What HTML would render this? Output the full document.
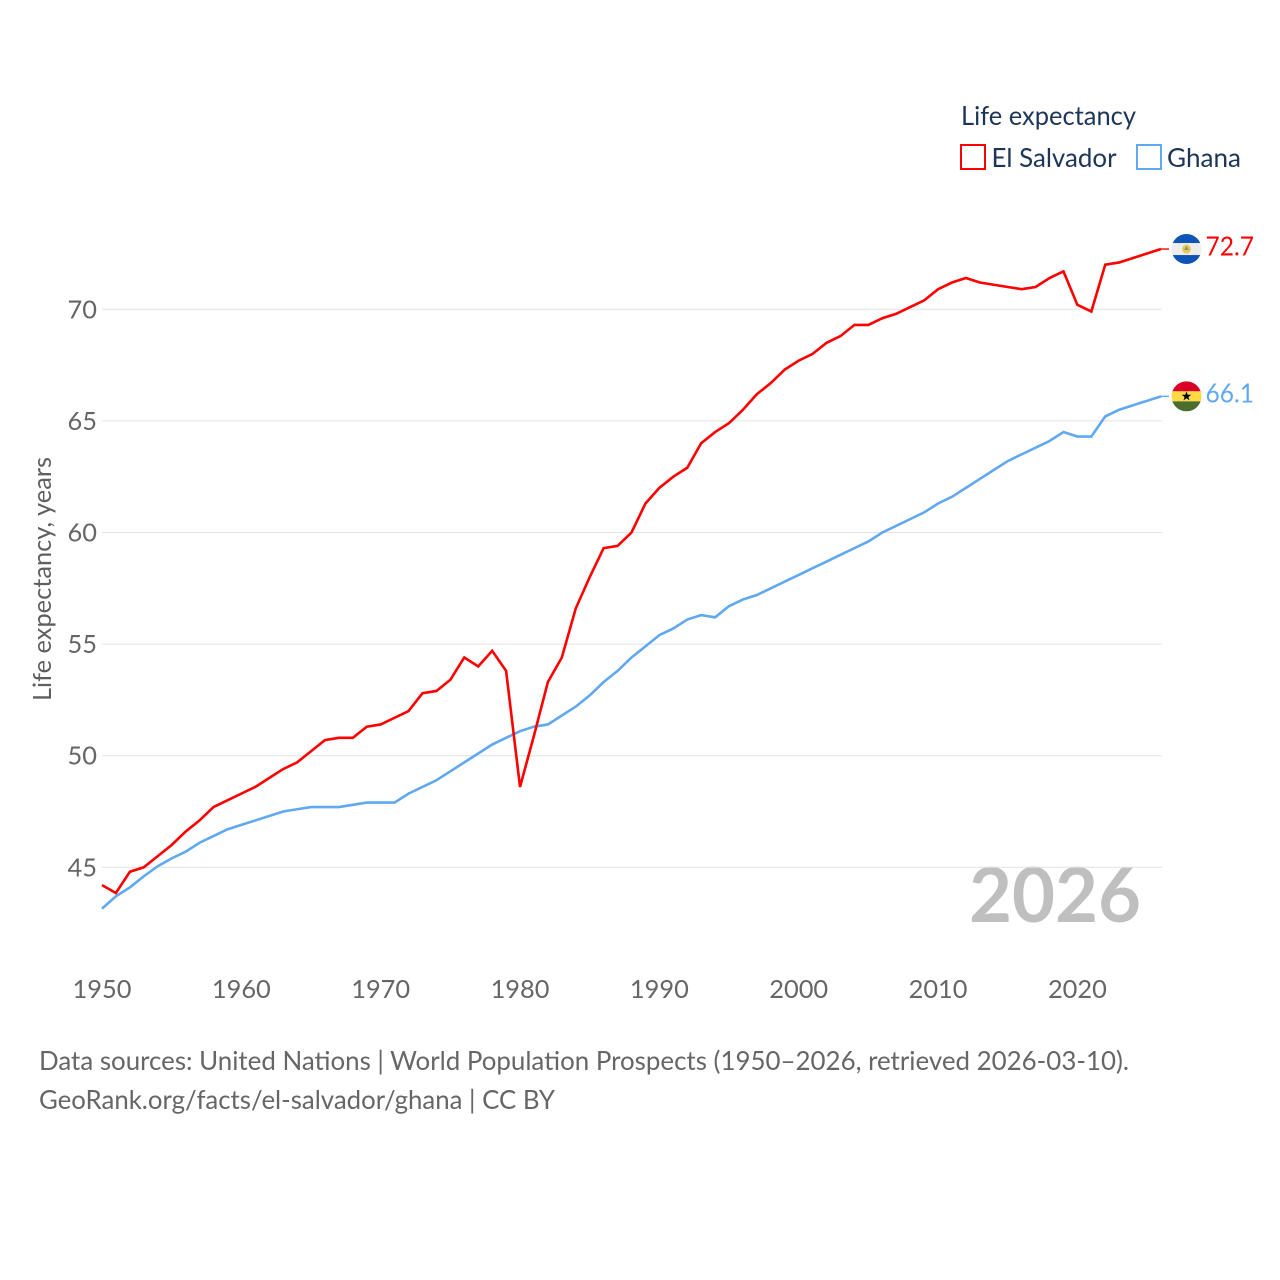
<!DOCTYPE html>
<html lang="en">
<head>
<meta charset="utf-8">
<title>Life expectancy: El Salvador and Ghana</title>
<style>
html,body{margin:0;padding:0;background:#fff;width:1280px;height:1280px;overflow:hidden}
svg{display:block;font-family:"Lato","Carlito","Liberation Sans",sans-serif}
</style>
</head>
<body>
<svg id="chart" xmlns="http://www.w3.org/2000/svg" width="1280" height="1280" viewBox="0 0 1280 1280">
  <defs>
    <clipPath id="flag-clip"><circle cx="0" cy="0" r="15"></circle></clipPath>
  </defs>
  <rect x="0" y="0" width="1280" height="1280" fill="#fff"></rect>
  <text x="969" y="922" font-size="76" font-weight="700" fill="#bfbfbf" textLength="172" lengthAdjust="spacingAndGlyphs">2026</text>
  <g id="grid"></g>
  <g id="y-ticks"></g>
  <g id="x-ticks"></g>
  <text transform="translate(51,701) rotate(-90)" font-size="25" fill="#5f5f5f" textLength="244" lengthAdjust="spacingAndGlyphs">Life expectancy, years</text>
  <g id="series"></g>
  <g id="flag-el-salvador">
    <g clip-path="url(#flag-clip)">
      <rect x="-15" y="-15" width="30" height="30" fill="#eeeeee"></rect>
      <rect x="-15" y="-15" width="30" height="9" fill="#0f55b5"></rect>
      <rect x="-15" y="6" width="30" height="9" fill="#0f55b5"></rect>
      <circle cx="0" cy="0" r="4.5" fill="#e8c95a"></circle>
      <path d="M-2.5 1 L0 -3 L2.5 1 Z" fill="#8a9a5b"></path>
    </g>
  </g>
  <g id="flag-ghana">
    <g clip-path="url(#flag-clip)">
      <rect x="-15" y="-15" width="30" height="10" fill="#d80027"></rect>
      <rect x="-15" y="-5" width="30" height="10" fill="#ffda44"></rect>
      <rect x="-15" y="5" width="30" height="10" fill="#496e2d"></rect>
      <path d="M0 -5 L1.2 -1.6 L4.8 -1.6 L1.9 0.6 L3 4 L0 1.9 L-3 4 L-1.9 0.6 L-4.8 -1.6 L-1.2 -1.6 Z" fill="#000"></path>
    </g>
  </g>
  <text x="961" y="125" font-size="26" fill="#1d3557" textLength="175" lengthAdjust="spacingAndGlyphs">Life expectancy</text>
  <g>
    <rect x="961" y="145" width="24" height="24" fill="#fff" stroke="#ff0000" stroke-width="2"></rect>
    <text x="991.500" y="167" font-size="26" fill="#1d3557" textLength="125" lengthAdjust="spacingAndGlyphs">El Salvador</text>
  </g>
  <g>
    <rect x="1137" y="145" width="24" height="24" fill="#fff" stroke="#60a8f0" stroke-width="2"></rect>
    <text x="1167" y="167" font-size="26" fill="#1d3557" textLength="74" lengthAdjust="spacingAndGlyphs">Ghana</text>
  </g>
  <text x="39" y="1070" font-size="26" fill="#666666" textLength="1090" lengthAdjust="spacingAndGlyphs">Data sources: United Nations | World Population Prospects (1950–2026, retrieved 2026-03-10).</text>
  <text x="39" y="1109" font-size="26" fill="#666666" textLength="516" lengthAdjust="spacingAndGlyphs">GeoRank.org/facts/el-salvador/ghana | CC BY</text>
</svg>
<script>
const years = [1950,1951,1952,1953,1954,1955,1956,1957,1958,1959,1960,1961,1962,1963,1964,1965,1966,1967,1968,1969,1970,1971,1972,1973,1974,1975,1976,1977,1978,1979,1980,1981,1982,1983,1984,1985,1986,1987,1988,1989,1990,1991,1992,1993,1994,1995,1996,1997,1998,1999,2000,2001,2002,2003,2004,2005,2006,2007,2008,2009,2010,2011,2012,2013,2014,2015,2016,2017,2018,2019,2020,2021,2022,2023,2024,2025,2026];
const elSalvador = [44.2,43.85,44.8,45.0,45.5,46.0,46.6,47.1,47.7,48.0,48.3,48.6,49.0,49.4,49.7,50.2,50.7,50.8,50.8,51.3,51.4,51.7,52.0,52.8,52.9,53.4,54.4,54.0,54.7,53.8,48.6,50.9,53.3,54.4,56.6,58.0,59.3,59.4,60.0,61.3,62.0,62.5,62.9,64.0,64.5,64.9,65.5,66.2,66.7,67.3,67.7,68.0,68.5,68.8,69.3,69.3,69.6,69.8,70.1,70.4,70.9,71.2,71.4,71.2,71.1,71.0,70.9,71.0,71.4,71.7,70.2,69.9,72.0,72.1,72.3,72.5,72.7];
const ghana = [43.15,43.7,44.1,44.6,45.05,45.4,45.7,46.1,46.4,46.7,46.9,47.1,47.3,47.5,47.6,47.7,47.7,47.7,47.8,47.9,47.9,47.9,48.3,48.6,48.9,49.3,49.7,50.1,50.5,50.8,51.1,51.3,51.4,51.8,52.2,52.7,53.3,53.8,54.4,54.9,55.4,55.7,56.1,56.3,56.2,56.7,57.0,57.2,57.5,57.8,58.1,58.4,58.7,59.0,59.3,59.6,60.0,60.3,60.6,60.9,61.3,61.6,62.0,62.4,62.8,63.2,63.5,63.8,64.1,64.5,64.3,64.3,65.2,65.5,65.7,65.9,66.1];
const yTickValues = [45,50,55,60,65,70];
const xTickValues = [1950,1960,1970,1980,1990,2000,2010,2020];

const NS = 'http://www.w3.org/2000/svg';
function xScale(year){ return 102 + (year - 1950) * (1161 - 102) / 76; }
function yScale(v){ return 867.3 + (45 - v) * (867.3 - 309.3) / 25; }
function make(tag, parent){
  const el = document.createElementNS(NS, tag);
  parent.appendChild(el);
  return el;
}

const grid = document.getElementById('grid');
const yTicks = document.getElementById('y-ticks');
yTickValues.forEach(function(v){
  const line = make('line', grid);
  
  
  line.setAttribute('x1', 102);
  line.setAttribute('x2', 1162);
  line.setAttribute('y1', yScale(v));
  line.setAttribute('y2', yScale(v));
  line.setAttribute('stroke', '#e2e2e2');
  line.setAttribute('stroke-width', 1);
  const t = make('text', yTicks);
  
  
  t.setAttribute('x', 97);
  t.setAttribute('y', yScale(v) + 9);
  t.setAttribute('text-anchor', 'end');
  t.setAttribute('font-size', 25.4);
  t.setAttribute('fill', '#666666');
  t.textContent = v;
});

const xTicks = document.getElementById('x-ticks');
xTickValues.forEach(function(y){
  const t = make('text', xTicks);
  
  
  t.setAttribute('x', xScale(y));
  t.setAttribute('y', 998);
  t.setAttribute('text-anchor', 'middle');
  t.setAttribute('font-size', 25.4);
  t.setAttribute('fill', '#666666');
  t.textContent = y;
});

const seriesGroup = document.getElementById('series');
function drawSeries(values, color, name, flagId){
  const pts = values.map(function(v, i){ return xScale(years[i]).toFixed(2) + ',' + yScale(v).toFixed(2); }).join(' ');
  const line = make('polyline', seriesGroup);
  
  
  line.setAttribute('points', pts);
  line.setAttribute('fill', 'none');
  line.setAttribute('stroke', color);
  line.setAttribute('stroke-width', 2.6);
  line.setAttribute('stroke-linejoin', 'miter');
  const lastV = values[values.length - 1];
  const lastY = yScale(lastV);
  const conn = make('line', seriesGroup);
  
  
  conn.setAttribute('x1', xScale(years[years.length - 1]));
  conn.setAttribute('x2', 1169);
  conn.setAttribute('y1', lastY);
  conn.setAttribute('y2', lastY);
  conn.setAttribute('stroke', color);
  conn.setAttribute('stroke-width', 1.4);
  document.getElementById(flagId).setAttribute('transform', 'translate(1186.500,' + lastY + ')');
  const label = make('text', seriesGroup);
  
  
  label.setAttribute('x', 1205.500);
  label.setAttribute('y', lastY + 6.3);
  label.setAttribute('font-size', 26);
  label.setAttribute('fill', color);
  label.setAttribute('textLength', 48.5);
  label.setAttribute('lengthAdjust', 'spacingAndGlyphs');
  label.textContent = lastV.toFixed(1);
}
drawSeries(ghana, '#60a8f0', 'ghana', 'flag-ghana');
drawSeries(elSalvador, '#ff0000', 'el-salvador', 'flag-el-salvador');
</script>
</body>
</html>
